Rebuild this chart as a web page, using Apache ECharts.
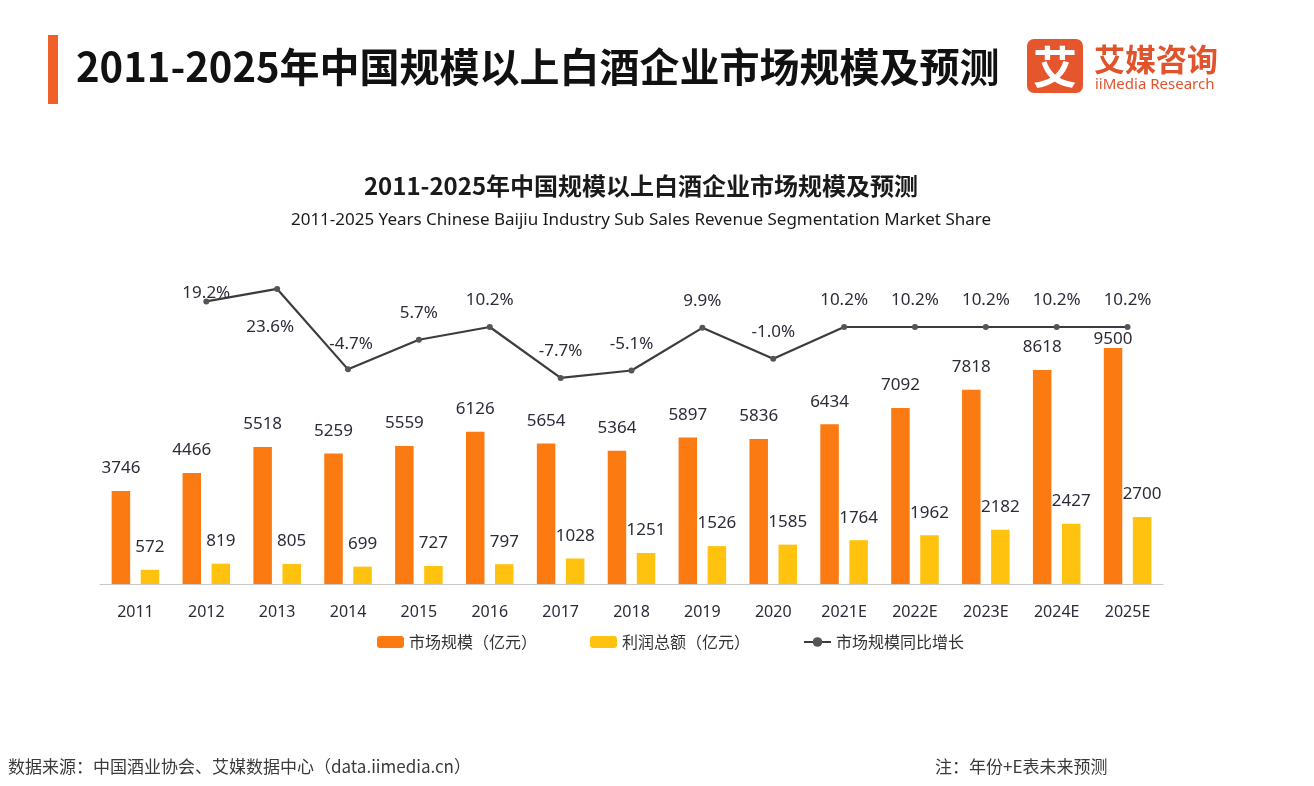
<!DOCTYPE html>
<html>
<head>
<meta charset="utf-8">
<script src="https://cdn.jsdelivr.net/npm/echarts@6/dist/echarts.min.js"></script>
<style>
html,body{margin:0;padding:0;background:#ffffff;}
#chart{width:1314px;height:786px;}
</style>
</head>
<body>
<div id="chart"></div>
<script>
// ---- data ----
const categories = ['2011','2012','2013','2014','2015','2016','2017','2018','2019','2020','2021E','2022E','2023E','2024E','2025E'];
const marketSize = [3746,4466,5518,5259,5559,6126,5654,5364,5897,5836,6434,7092,7818,8618,9500];
const profit = [572,819,805,699,727,797,1028,1251,1526,1585,1764,1962,2182,2427,2700];
const growth = [null,19.2,23.6,-4.7,5.7,10.2,-7.7,-5.1,9.9,-1.0,10.2,10.2,10.2,10.2,10.2];
const seriesNames = ['市场规模（亿元）','利润总额（亿元）','市场规模同比增长'];

const FONT = '"Noto Sans", "Noto Sans CJK SC", sans-serif';
const CJK = '"Noto Sans CJK SC", "Noto Sans", sans-serif';
const TXT = '#2e2a3a';

// per-point label tweaks (style only)
const growthLabelTweaks = {
  1: {offset: [0, 18]},
  2: {position: 'bottom', offset: [-7, 12]},
  3: {offset: [3, 1]}
};
const growthData = growth.map((v, i) => {
  const item = {value: v};
  if (growthLabelTweaks[i]) item.label = growthLabelTweaks[i];
  return item;
});
const marketData = marketSize.map((v, i) => {
  const item = {value: v};
  if (i === marketSize.length - 1) item.label = {offset: [0, 14]};
  return item;
});

const chart = echarts.init(document.getElementById('chart'));
chart.setOption({
  backgroundColor: '#ffffff',
  animation: false,
  textStyle: {fontFamily: FONT},
  title: [{
    text: '2011-2025年中国规模以上白酒企业市场规模及预测',
    left: 636, top: 169, textAlign: 'center',
    textStyle: {fontFamily: CJK, fontSize: 24, fontWeight: 'bold', color: '#1a1a1a'}
  }, {
    text: '2011-2025 Years Chinese Baijiu Industry Sub Sales Revenue Segmentation Market Share',
    left: 636, top: 207, textAlign: 'center',
    textStyle: {fontFamily: FONT, fontSize: 17, fontWeight: 'normal', color: '#1a1a1a'}
  }],
  legend: {
    left: 372, top: 629,
    itemWidth: 27, itemHeight: 12, itemGap: 53,
    textStyle: {fontFamily: CJK, fontSize: 16, color: '#333'},
    data: seriesNames
  },
  grid: {left: 100, right: 151, top: 286, bottom: 202},
  xAxis: {
    type: 'category',
    data: categories,
    axisLine: {lineStyle: {color: '#c8c8c8', width: 1}},
    axisTick: {show: false},
    axisLabel: {fontSize: 16, color: TXT, margin: 20, fontFamily: FONT}
  },
  yAxis: [{
    type: 'value', min: 0, max: 12000, show: false, splitLine: {show: false}
  }, {
    type: 'value', min: -80.2, max: 24.62, show: false, splitLine: {show: false}
  }],
  series: [{
    name: seriesNames[0], type: 'bar',
    data: marketData,
    barWidth: 18.5, barGap: '57%',
    itemStyle: {color: '#fb7a12'},
    label: {show: true, position: 'top', distance: 14, fontSize: 17, color: TXT, fontFamily: FONT}
  }, {
    name: seriesNames[1], type: 'bar',
    data: profit,
    barWidth: 18.5, barGap: '57%',
    itemStyle: {color: '#ffc20e'},
    label: {show: true, position: 'top', distance: 14, fontSize: 17, color: TXT, fontFamily: FONT}
  }, {
    name: seriesNames[2], type: 'line', yAxisIndex: 1,
    data: growthData,
    connectNulls: false,
    symbol: 'circle', symbolSize: 6,
    lineStyle: {color: '#3c3c3c', width: 2.2},
    itemStyle: {color: '#555555'},
    z: 5,
    label: {
      show: true, position: 'top', distance: 15, fontSize: 17, color: TXT, fontFamily: FONT,
      formatter: p => p.value == null ? '' : Number(p.value).toFixed(1) + '%'
    }
  }],
  graphic: [
    {type: 'rect', shape: {x: 48, y: 35, width: 10, height: 69}, style: {fill: '#f0612a'}},
    {type: 'text', x: 76, y: 67, style: {text: '2011-2025年中国规模以上白酒企业市场规模及预测', fontFamily: CJK, fontSize: 40, fontWeight: 'bold', fill: '#111111', verticalAlign: 'middle'}},
    {type: 'rect', shape: {x: 1027, y: 39, width: 56, height: 54, r: 7}, style: {fill: '#e5562c'}},
    {type: 'text', x: 1055, y: 67, style: {text: '艾', fontFamily: CJK, fontSize: 44, fontWeight: 'bold', fill: '#ffffff', align: 'center', verticalAlign: 'middle'}},
    {type: 'text', x: 1094, y: 59, style: {text: '艾媒咨询', fontFamily: CJK, fontSize: 31, fontWeight: 'bold', fill: '#e0532c', verticalAlign: 'middle'}},
    {type: 'text', x: 1095, y: 85, style: {text: 'iiMedia Research', fontFamily: FONT, fontSize: 15, fill: '#e0532c', verticalAlign: 'middle'}},
    {type: 'text', x: 8, y: 767, style: {text: '数据来源：中国酒业协会、艾媒数据中心（data.iimedia.cn）', fontFamily: CJK, fontSize: 17, fill: '#3a3a3a', verticalAlign: 'middle'}},
    {type: 'text', x: 935, y: 767, style: {text: '注：年份+E表未来预测', fontFamily: CJK, fontSize: 17, fill: '#3a3a3a', verticalAlign: 'middle'}}
  ]
});
</script>
</body>
</html>
